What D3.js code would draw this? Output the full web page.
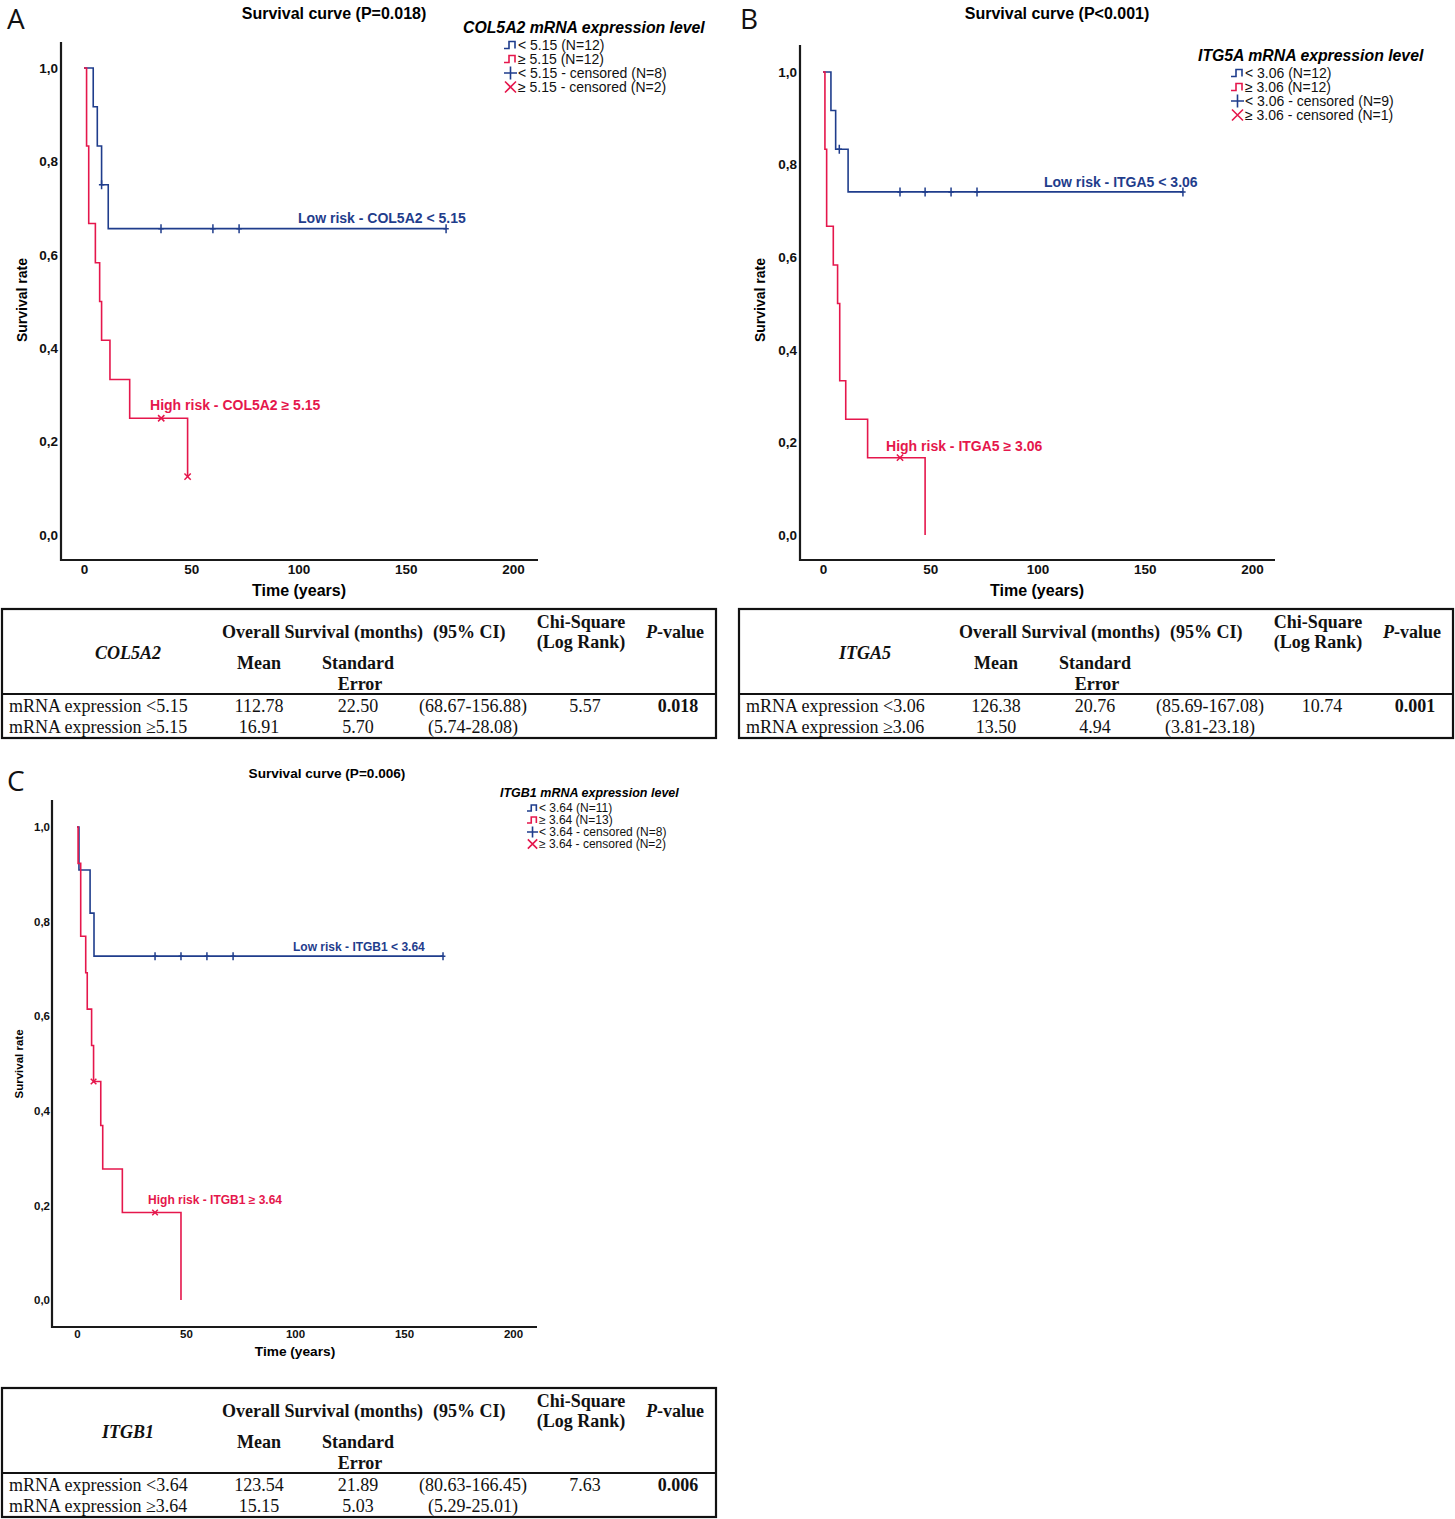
<!DOCTYPE html>
<html><head><meta charset="utf-8">
<script src="https://cdn.jsdelivr.net/npm/d3@7"></script>
<style>body{margin:0;background:#fff}svg{display:block}</style>
</head><body>
<svg id="chart" width="1455" height="1519"></svg>
<script>
// ---------- DATA ----------
const timeTicks = [0, 50, 100, 150, 200];
const survTicks = [0, 0.2, 0.4, 0.6, 0.8, 1.0];

// Panel A : COL5A2
const aLowEventT  = [4.3, 6.2, 8.2, 11.3];
const aLowEventS  = [0.917, 0.833, 0.750, 0.656];
const aLowCensT   = [8.2, 35.9, 60.1, 72.3, 168.8];
const aHighEventT = [1.2, 2.2, 5.3, 7.3, 8.2, 12.1, 21.3, 48.3];
const aHighEventS = [0.833, 0.667, 0.583, 0.500, 0.417, 0.333, 0.250, 0.125];
const aHighCensT  = [36.0, 48.3];
const aLegend = ["< 5.15 (N=12)", "≥ 5.15 (N=12)", "< 5.15 - censored (N=8)", "≥ 5.15 - censored (N=2)"];

// Panel B : ITGA5
const bLowEventT  = [3.7, 5.9, 11.7];
const bLowEventS  = [0.917, 0.833, 0.741];
const bLowCensT   = [7.6, 35.9, 47.6, 59.7, 71.8, 167.8];
const bHighEventT = [0.9, 1.7, 4.8, 6.8, 7.8, 10.6, 20.8, 47.6];
const bHighEventS = [0.833, 0.667, 0.583, 0.500, 0.333, 0.250, 0.167, 0.0];
const bHighCensT  = [35.9];
const bLegend = ["< 3.06 (N=12)", "≥ 3.06 (N=12)", "< 3.06 - censored (N=9)", "≥ 3.06 - censored (N=1)"];

// Panel C : ITGB1
const cLowEventT  = [0.9, 6.0, 7.8];
const cLowEventS  = [0.909, 0.818, 0.727];
const cLowCensT   = [35.8, 47.7, 59.6, 71.6, 167.9];
const cHighEventT = [0.5, 1.7, 4.0, 4.7, 6.7, 7.6, 10.9, 11.8, 20.8, 47.7];
const cHighEventS = [0.923, 0.769, 0.692, 0.615, 0.538, 0.462, 0.369, 0.277, 0.185, 0.0];
const cHighCensT  = [7.6, 35.8];
const cLegend = ["< 3.64 (N=11)", "≥ 3.64 (N=13)", "< 3.64 - censored (N=8)", "≥ 3.64 - censored (N=2)"];

// Tables
const tableGenes = ["COL5A2", "ITGA5", "ITGB1"];
const rowLabelsA = ["mRNA expression <5.15", "mRNA expression ≥5.15"];
const rowLabelsB = ["mRNA expression <3.06", "mRNA expression ≥3.06"];
const rowLabelsC = ["mRNA expression <3.64", "mRNA expression ≥3.64"];
const meansA = ["112.78", "16.91"], seA = ["22.50", "5.70"], ciA = ["(68.67-156.88)", "(5.74-28.08)"];
const meansB = ["126.38", "13.50"], seB = ["20.76", "4.94"], ciB = ["(85.69-167.08)", "(3.81-23.18)"];
const meansC = ["123.54", "15.15"], seC = ["21.89", "5.03"], ciC = ["(80.63-166.45)", "(5.29-25.01)"];
const chiSq = ["5.57", "10.74", "7.63"];
const pVals = ["0.018", "0.001", "0.006"];

// ---------- STYLE ----------
const BLUE = "#1f3d8c", RED = "#e5174c", AX = "#1a1a1a";
const SANS = "'Liberation Sans', Arial, sans-serif";
const SERIF = "'Liberation Serif', 'Times New Roman', serif";

const svg = d3.select("#chart");

function survAt(eT, eS, t) {
  let s = 1;
  eT.forEach((et, i) => { if (et <= t) s = eS[i]; });
  return s;
}
function stepPoints(eT, eS, cT) {
  const pts = [[0, 1]];
  eT.forEach((t, i) => pts.push([t, eS[i]]));
  const end = d3.max(cT);
  if (end > eT[eT.length - 1]) pts.push([end, eS[eS.length - 1]]);
  return pts;
}

function drawPanel(p) {
  const g = svg.append("g");
  const x = d3.scaleLinear().domain([0, 200]).range(p.xr);
  const y = d3.scaleLinear().domain([0, 1]).range(p.yr);

  // letter
  g.append("text").attr("x", p.letter[0]).attr("y", p.letter[1])
    .attr("font-family", "'Open Sans', 'Noto Sans', sans-serif").attr("font-size", p.letterSize)
    .attr("fill", "#111").text(p.id);
  // title
  g.append("text").attr("x", p.title[0]).attr("y", p.title[1]).attr("text-anchor", "middle")
    .attr("dominant-baseline", "central").attr("font-family", SANS).attr("font-weight", "bold")
    .attr("font-size", p.titleSize).text(p.titleText);

  // axes lines
  g.append("path").attr("d", `M${p.frame.x0},${p.frame.top}V${p.frame.bottom}H${p.frame.x1}`)
    .attr("fill", "none").attr("stroke", AX).attr("stroke-width", 2.2);

  // x ticks
  const xa = g.append("g").attr("transform", `translate(0,${p.xTickY})`)
    .call(d3.axisBottom(x).tickValues(timeTicks).tickSize(0).tickPadding(0).tickFormat(d3.format("d")));
  xa.select(".domain").remove();
  xa.selectAll("text").attr("dy", "0.35em").attr("font-family", SANS).attr("font-weight", "bold")
    .attr("font-size", p.tickSize).attr("fill", "#111");
  // y ticks
  const ya = g.append("g").attr("transform", `translate(${p.yTickRight},0)`)
    .call(d3.axisLeft(y).tickValues(survTicks).tickSize(0).tickPadding(0)
      .tickFormat(d => d3.format(".1f")(d).replace(".", ",")));
  ya.select(".domain").remove();
  ya.selectAll("text").attr("font-family", SANS).attr("font-weight", "bold")
    .attr("font-size", p.tickSize).attr("fill", "#111");

  // axis titles
  g.append("text").attr("transform", `translate(${p.yLab[0]},${p.yLab[1]}) rotate(-90)`)
    .attr("text-anchor", "middle").attr("dominant-baseline", "central")
    .attr("font-family", SANS).attr("font-weight", "bold").attr("font-size", p.yLabSize).text("Survival rate");
  g.append("text").attr("x", p.xLab[0]).attr("y", p.xLab[1]).attr("text-anchor", "middle")
    .attr("dominant-baseline", "central").attr("font-family", SANS).attr("font-weight", "bold")
    .attr("font-size", p.xLabSize).text("Time (years)");

  // curves
  const line = d3.line().x(d => x(d[0])).y(d => y(d[1])).curve(d3.curveStepAfter);
  [[p.low, BLUE], [p.high, RED]].forEach(([s, col]) => {
    g.append("path").attr("d", line(stepPoints(s.eT, s.eS, s.cT)))
      .attr("fill", "none").attr("stroke", col).attr("stroke-width", 1.6);
  });
  // censor marks
  p.low.cT.forEach(t => {
    const cx = x(t), cy = y(survAt(p.low.eT, p.low.eS, t));
    g.append("path").attr("d", `M${cx},${cy - p.mk}V${cy + p.mk}M${cx - p.mk * 0.6},${cy}H${cx + p.mk * 0.6}`)
      .attr("stroke", BLUE).attr("stroke-width", 1.5);
  });
  p.high.cT.forEach(t => {
    const cx = x(t), cy = y(survAt(p.high.eT, p.high.eS, t)), k = p.mk * 0.7;
    g.append("path").attr("d", `M${cx - k},${cy - k}L${cx + k},${cy + k}M${cx - k},${cy + k}L${cx + k},${cy - k}`)
      .attr("stroke", RED).attr("stroke-width", 1.5);
  });
  // curve labels
  g.append("text").attr("x", x(p.lowLab[0])).attr("y", y(p.lowLab[1])).attr("dominant-baseline", "central")
    .attr("font-family", SANS).attr("font-weight", "bold").attr("font-size", p.curveLabSize)
    .attr("fill", BLUE).text(p.lowLabText);
  g.append("text").attr("x", x(p.highLab[0])).attr("y", y(p.highLab[1])).attr("dominant-baseline", "central")
    .attr("font-family", SANS).attr("font-weight", "bold").attr("font-size", p.curveLabSize)
    .attr("fill", RED).text(p.highLabText);

  // legend
  g.append("text").attr("x", p.legTitle[0]).attr("y", p.legTitle[1]).attr("dominant-baseline", "central")
    .attr("font-family", SANS).attr("font-weight", "bold").attr("font-style", "italic")
    .attr("font-size", p.legTitleSize).text(p.legTitleText);
  const cols = [BLUE, RED, BLUE, RED];
  p.legend.forEach((txt, i) => {
    const yy = p.legY0 + i * p.legDy, ix = p.legIconX, s = p.legScale;
    let d;
    if (i < 2) d = `M${ix},${yy + 3.5 * s}H${ix + 5 * s}V${yy - 3.5 * s}H${ix + 11 * s}V${yy + 3.5 * s}`;
    else if (i === 2) d = `M${ix},${yy}H${ix + 13 * s}M${ix + 6.5 * s},${yy - 6.5 * s}V${yy + 6.5 * s}`;
    else d = `M${ix + 1 * s},${yy - 5.5 * s}L${ix + 12 * s},${yy + 5.5 * s}M${ix + 1 * s},${yy + 5.5 * s}L${ix + 12 * s},${yy - 5.5 * s}`;
    g.append("path").attr("d", d).attr("fill", "none").attr("stroke", cols[i]).attr("stroke-width", 1.6);
    g.append("text").attr("x", p.legTextX).attr("y", yy).attr("dominant-baseline", "central")
      .attr("font-family", SANS).attr("font-size", p.legSize).attr("fill", "#111").text(txt);
  });
}

drawPanel({
  id: "A", letter: [7, 29], letterSize: 28,
  titleText: "Survival curve (P=0.018)", title: [334, 13], titleSize: 16,
  xr: [84, 513], yr: [535, 68], frame: { x0: 61, x1: 538, top: 42, bottom: 560 },
  xTickY: 569, yTickRight: 58, tickSize: 13.5,
  yLab: [22, 300], yLabSize: 14, xLab: [299, 590], xLabSize: 16,
  low: { eT: aLowEventT, eS: aLowEventS, cT: aLowCensT },
  high: { eT: aHighEventT, eS: aHighEventS, cT: aHighCensT },
  mk: 4.5,
  lowLab: [99.8, 0.679], lowLabText: "Low risk - COL5A2 < 5.15",
  highLab: [30.8, 0.278], highLabText: "High risk - COL5A2 ≥ 5.15", curveLabSize: 14,
  legTitleText: "COL5A2 mRNA expression level", legTitle: [463, 27], legTitleSize: 15.8,
  legend: aLegend, legY0: 45, legDy: 14, legIconX: 504, legTextX: 518, legSize: 14, legScale: 1
});
drawPanel({
  id: "B", letter: [740, 29], letterSize: 28,
  titleText: "Survival curve (P<0.001)", title: [1057, 13], titleSize: 16,
  xr: [823, 1252], yr: [535, 72], frame: { x0: 800, x1: 1275, top: 45, bottom: 560 },
  xTickY: 569, yTickRight: 797, tickSize: 13.5,
  yLab: [760, 300], yLabSize: 14, xLab: [1037, 590], xLabSize: 16,
  low: { eT: bLowEventT, eS: bLowEventS, cT: bLowCensT },
  high: { eT: bHighEventT, eS: bHighEventS, cT: bHighCensT },
  mk: 4.5,
  lowLab: [103, 0.762], lowLabText: "Low risk - ITGA5 < 3.06",
  highLab: [29.4, 0.192], highLabText: "High risk - ITGA5 ≥ 3.06", curveLabSize: 14,
  legTitleText: "ITG5A mRNA expression level", legTitle: [1198, 55], legTitleSize: 15.8,
  legend: bLegend, legY0: 73, legDy: 14, legIconX: 1231, legTextX: 1245, legSize: 14, legScale: 1
});
drawPanel({
  id: "C", letter: [7, 791], letterSize: 28,
  titleText: "Survival curve (P=0.006)", title: [327, 773], titleSize: 13.6,
  xr: [77, 513], yr: [1300, 827], frame: { x0: 52, x1: 537, top: 800, bottom: 1327 },
  xTickY: 1334, yTickRight: 50, tickSize: 11.5,
  yLab: [19, 1064], yLabSize: 11.5, xLab: [295, 1351], xLabSize: 13.7,
  low: { eT: cLowEventT, eS: cLowEventS, cT: cLowCensT },
  high: { eT: cHighEventT, eS: cHighEventS, cT: cHighCensT },
  mk: 4,
  lowLab: [99.1, 0.746], lowLabText: "Low risk - ITGB1 < 3.64",
  highLab: [32.6, 0.211], highLabText: "High risk - ITGB1 ≥ 3.64", curveLabSize: 12,
  legTitleText: "ITGB1 mRNA expression level", legTitle: [500, 793], legTitleSize: 12.5,
  legend: cLegend, legY0: 808, legDy: 12, legIconX: 527, legTextX: 539, legSize: 12, legScale: 0.85
});

// ---------- TABLES ----------
function drawTable(x0, y0, idx, labels, means, ses, cis) {
  const g = svg.append("g").attr("transform", `translate(${x0},${y0})`);
  const W = 714, H = 129, fs = 18;
  g.append("rect").attr("x", 0).attr("y", 0).attr("width", W).attr("height", H)
    .attr("fill", "none").attr("stroke", "#111").attr("stroke-width", 2.2);
  g.append("line").attr("x1", 0).attr("x2", W).attr("y1", 85).attr("y2", 85)
    .attr("stroke", "#111").attr("stroke-width", 2.2);
  const t = (x, y, txt, opts = {}) => {
    const e = g.append("text").attr("x", x).attr("y", y).attr("dominant-baseline", "central")
      .attr("font-family", SERIF).attr("font-size", fs).attr("fill", "#111")
      .attr("text-anchor", opts.anchor || "middle")
      .attr("font-weight", opts.bold ? "bold" : "normal")
      .attr("font-style", opts.italic ? "italic" : "normal");
    e.text(txt);
    return e;
  };
  t(126, 44, tableGenes[idx], { bold: true, italic: true });
  t(220, 23, "Overall Survival (months)", { bold: true, anchor: "start" });
  t(431, 23, "(95% CI)", { bold: true, anchor: "start" });
  t(579, 13, "Chi-Square", { bold: true });
  t(579, 33, "(Log Rank)", { bold: true });
  const pv = t(673, 23, "", { bold: true });
  pv.append("tspan").attr("font-style", "italic").text("P");
  pv.append("tspan").text("-value");
  t(257, 54, "Mean", { bold: true });
  t(356, 54, "Standard", { bold: true });
  t(358, 75, "Error", { bold: true });
  [97, 118].forEach((yy, r) => {
    t(7, yy, labels[r], { anchor: "start" });
    t(257, yy, means[r]);
    t(356, yy, ses[r]);
    t(471, yy, cis[r]);
  });
  t(583, 97, chiSq[idx]);
  t(676, 97, pVals[idx], { bold: true });
}
drawTable(2, 609, 0, rowLabelsA, meansA, seA, ciA);
drawTable(739, 609, 1, rowLabelsB, meansB, seB, ciB);
drawTable(2, 1388, 2, rowLabelsC, meansC, seC, ciC);
</script>
</body></html>
